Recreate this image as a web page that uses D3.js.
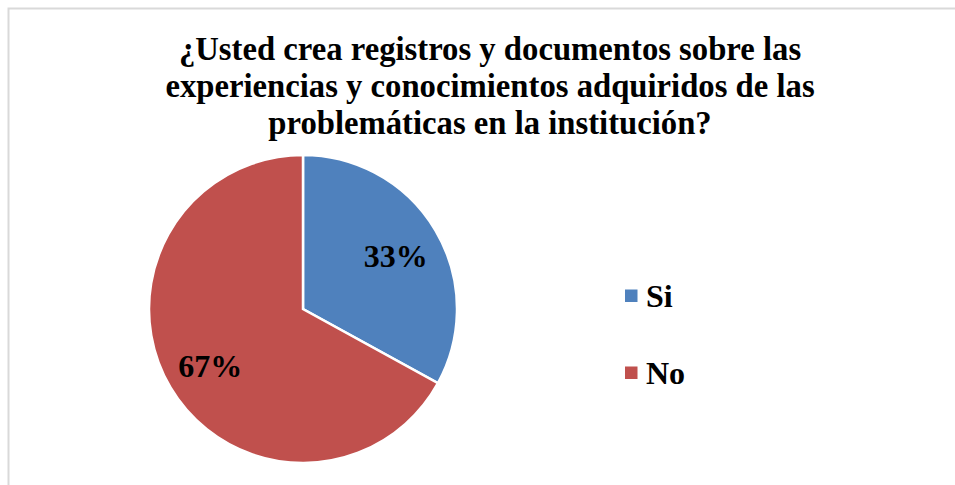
<!DOCTYPE html>
<html>
<head>
<meta charset="utf-8">
<script src="https://cdn.jsdelivr.net/npm/d3@7"></script>
<style>
  body { margin: 0; background: #fff; }
  svg { display: block; }
  text { font-family: "Liberation Serif", "Times New Roman", serif; font-weight: bold; fill: #000; }
</style>
</head>
<body>
<div id="chart"></div>
<script>
var titleLines = [
  "¿Usted crea registros y documentos sobre las",
  "experiencias y conocimientos adquiridos de las",
  "problemáticas en la institución?"
];
var categories = ["Si", "No"];
var values = [33, 67];
var colors = ["#4F81BD", "#C0504D"];

var width = 955;
var height = 485;

var svg = d3.select("#chart").append("svg")
  .attr("width", width)
  .attr("height", height);

// chart frame (runs off the right and bottom edges)
svg.append("rect")
  .attr("x", 8.5)
  .attr("y", 8.5)
  .attr("width", 980)
  .attr("height", 500)
  .attr("fill", "#fff")
  .attr("stroke", "#d9d9d9")
  .attr("stroke-width", 2);

svg.append("g")
  .selectAll("text")
  .data(titleLines)
  .enter()
  .append("text")
  .attr("x", 490)
  .attr("y", function (d, i) { return 60 + i * 37 })
  .attr("text-anchor", "middle")
  .style("font-size", "32.7px")
  .text(function (d) { return d });

var radius = 154;
var cx = 303;
var cy = 309;

var pie = d3.pie().sort(null).value(function (d) { return d.value });
var arc = d3.arc().innerRadius(0).outerRadius(radius);
var labelArc = d3.arc().innerRadius(radius * 0.7).outerRadius(radius * 0.7);

var data = categories.map(function (c, i) { return { name: c, value: values[i], color: colors[i] } });
var total = d3.sum(values);

var g = svg.append("g").attr("transform", "translate(" + cx + "," + cy + ")");

g.selectAll(".slice")
  .data(pie(data))
  .enter()
  .append("path")
  .attr("class", "slice")
  .attr("d", arc)
  .attr("fill", function (d) { return d.data.color })
  .attr("stroke", "#fff")
  .attr("stroke-width", 2.5);

g.selectAll(".pct")
  .data(pie(data))
  .enter()
  .append("text")
  .attr("class", "pct")
  .attr("transform", function (d) { return "translate(" + labelArc.centroid(d) + ")" })
  .attr("text-anchor", "middle")
  .attr("dy", "0.4em")
  .style("font-size", "32px")
  .text(function (d) { return Math.round(d.data.value / total * 100) + "%" });

var legendY = d3.scalePoint().domain(categories).range([296, 373]);

var legend = svg.selectAll(".legend")
  .data(data)
  .enter()
  .append("g")
  .attr("class", "legend")
  .attr("transform", function (d) { return "translate(625," + legendY(d.name) + ")" });

legend.append("rect")
  .attr("x", 0)
  .attr("y", -6.5)
  .attr("width", 12.5)
  .attr("height", 12.5)
  .attr("fill", function (d) { return d.color });

legend.append("text")
  .attr("x", 21)
  .attr("y", 11)
  .style("font-size", "32px")
  .text(function (d) { return d.name });
</script>
</body>
</html>
